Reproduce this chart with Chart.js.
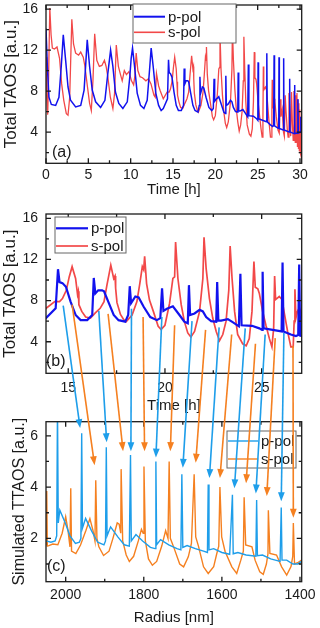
<!DOCTYPE html>
<html>
<head>
<meta charset="utf-8">
<script src="https://cdn.jsdelivr.net/npm/chart.js@4.4.1/dist/chart.umd.min.js"></script>
<style>
  html, body { margin: 0; padding: 0; background: #fff; }
  #wrap { position: relative; width: 320px; height: 628px; overflow: hidden; }
  .pane { position: absolute; left: 0; width: 320px; }
  #overlay { position: absolute; left: 0; top: 0; pointer-events: none; }
</style>
</head>
<body>
<div id="wrap">
  <div class="pane" style="top:0;height:200px"><canvas id="chartA"></canvas></div>
  <div class="pane" style="top:200px;height:215px"><canvas id="chartB"></canvas></div>
  <div class="pane" style="top:415px;height:213px"><canvas id="chartC"></canvas></div>
  <canvas id="overlay" width="320" height="628"></canvas>
</div>
<script>
// measured TAOS, [time h, value]
const pPol = [
  [0,14.1],[0.16,10.4],[0.35,7.4],[0.63,6.7],[1.14,6.6],[1.53,7.4],[1.8,10.4],[2.04,13.5],[2.32,11.0],[2.6,8.4],
  [2.9,7.1],[3.5,6.45],[4.1,6.6],[4.5,8.1],[4.72,11.0],[4.87,13.0],[5.15,10.4],[5.46,8.1],[5.86,6.95],[6.45,6.4],
  [6.96,7.1],[7.3,9.7],[7.63,12.0],[7.9,10.4],[8.2,7.9],[8.6,6.8],[9.08,6.3],[9.6,6.95],[9.9,9.4],[10.06,11.2],
  [10.22,12.2],[10.46,10.4],[10.77,7.8],[11.16,6.6],[11.56,6.3],[11.95,7.1],[12.26,10.4],[12.42,12.2],[12.66,10.4],[12.97,7.8],
  [13.3,6.6],[13.6,6.1],[13.85,6.3],[14.35,7.25],[14.47,11.05],[14.55,9.8],[14.7,9.7],[14.88,9.35],[15.12,7.9],[15.38,6.6],
  [15.64,6.1],[15.98,6.1],[16.24,6.6],[16.32,10.2],[16.4,8.7],[16.55,9.0],[16.75,9.0],[16.85,8.9],[17.1,7.75],[17.35,6.6],
  [17.6,6.1],[17.95,5.95],[18.1,6.6],[18.18,9.4],[18.25,7.75],[18.47,8.4],[18.64,8.3],[18.9,7.4],[19.24,6.4],[19.58,6.1],
  [19.76,6.3],[19.85,9.2],[19.92,7.0],[20.1,7.2],[20.41,7.45],[20.75,6.6],[21.0,5.95],[21.18,5.8],[21.24,9.5],[21.3,6.6],
  [21.53,6.75],[21.79,7.1],[21.96,6.95],[22.13,6.4],[22.39,6.0],[22.65,5.95],[22.7,9.8],[22.76,6.05],[22.9,6.05],[23.25,6.2],
  [23.5,5.9],[23.82,5.5],[23.9,10.6],[23.96,5.6],[24.5,5.55],[24.88,5.3],[25.02,5.15],[25.05,10.8],[25.1,5.3],[25.57,5.15],
  [26.03,5.0],[26.08,11.7],[26.13,5.0],[26.51,4.7],[26.77,4.55],[26.89,4.65],[26.94,11.5],[26.99,4.6],[27.35,4.4],[27.49,4.35],
  [27.52,11.3],[27.56,4.35],[28.02,4.2],[28.07,11.2],[28.11,4.2],[28.72,4.0],[28.78,9.2],[28.82,4.0],[29.3,3.85],[29.35,8.6],
  [29.4,3.85],[29.7,3.9],[29.75,7.2],[29.8,3.9],[30.05,4.0],[30.1,5.5],[30.15,4.1],[30.3,4.3]
];
const sPol = [
  [0,11.3],[0.1,7.5],[0.2,5.7],[0.3,9.0],[0.45,16.1],[0.6,13.5],[0.75,12.2],[1.0,12.1],[1.3,12.3],[1.6,11.2],
  [1.85,8.7],[2.1,7.1],[2.4,5.8],[2.6,5.65],[2.8,7.4],[2.95,12.0],[3.05,15.0],[3.25,12.6],[3.5,11.7],[3.85,11.5],
  [4.1,11.8],[4.4,11.3],[4.6,10.4],[4.9,8.4],[5.15,6.8],[5.35,6.1],[5.55,9.1],[5.75,13.6],[6.0,11.0],[6.3,10.4],
  [6.6,10.5],[6.9,11.0],[7.1,10.4],[7.3,9.4],[7.6,7.4],[7.9,6.3],[8.1,7.8],[8.3,12.5],[8.55,10.4],[8.8,9.6],
  [9.0,9.0],[9.25,10.0],[9.5,9.6],[9.8,9.9],[10.1,9.0],[10.35,8.6],[10.5,9.5],[10.65,11.7],[10.85,10.0],[11.1,9.4],
  [11.4,9.3],[11.8,9.0],[12.1,9.2],[12.4,8.7],[12.75,7.6],[12.9,7.4],[13.05,9.7],[13.3,8.5],[13.5,8.0],[13.85,7.25],
  [14.3,7.9],[14.55,7.9],[14.7,8.2],[14.9,9.0],[15.05,10.3],[15.2,11.3],[15.38,10.15],[15.48,8.6],[15.52,8.9],[15.55,7.6],
  [15.7,6.95],[15.9,6.4],[16.15,6.3],[16.4,6.8],[16.65,7.25],[16.85,7.9],[17.0,9.5],[17.2,11.45],[17.35,10.15],[17.42,10.4],
  [17.45,9.2],[17.52,7.8],[17.7,6.65],[17.87,6.15],[18.0,5.95],[18.3,6.6],[18.55,7.9],[18.7,9.65],[18.83,11.3],[18.9,11.0],
  [18.95,12.3],[19.05,9.65],[19.2,8.05],[19.4,6.95],[19.65,5.5],[19.8,5.2],[20.0,5.6],[20.24,7.75],[20.41,10.15],[20.5,10.3],
  [20.55,13.7],[20.67,10.15],[20.84,7.6],[21.0,6.0],[21.18,4.85],[21.34,4.45],[21.53,5.0],[21.79,6.95],[21.96,10.15],[22.02,14.15],
  [22.13,11.1],[22.3,8.2],[22.47,6.3],[22.65,5.0],[22.82,4.1],[22.99,4.7],[23.16,6.0],[23.3,9.0],[23.37,13.3],[23.47,10.15],
  [23.6,6.95],[23.76,4.7],[24.02,3.8],[24.2,3.6],[24.36,4.3],[24.5,6.95],[24.6,11.8],[24.67,9.3],[24.8,9.15],[24.88,8.7],
  [25.05,6.95],[25.22,5.6],[25.4,4.3],[25.53,3.5],[25.62,5.3],[25.67,10.4],[25.72,8.1],[25.91,8.4],[26.05,8.1],[26.15,7.0],
  [26.34,5.0],[26.51,3.5],[26.63,3.5],[26.68,6.0],[26.72,9.1],[26.77,6.3],[26.85,6.95],[26.94,7.25],[27.03,6.95],[27.2,5.5],
  [27.4,4.2],[27.55,3.9],[27.65,7.2],[27.75,5.5],[27.9,6.2],[28.05,4.0],[28.15,3.6],[28.25,7.6],[28.35,6.0],[28.5,4.2],
  [28.6,3.5],[28.7,7.8],[28.8,5.5],[28.9,3.6],[29.0,7.9],[29.1,4.8],[29.2,3.2],[29.28,8.0],[29.36,4.0],[29.44,3.0],
  [29.5,7.6],[29.58,3.0],[29.64,7.8],[29.7,2.6],[29.76,7.2],[29.82,2.4],[29.87,6.8],[29.92,2.2],[29.97,6.2],[30.02,2.0],
  [30.06,5.5],[30.1,1.8],[30.14,4.8],[30.18,1.5],[30.22,4.0],[30.26,1.4],[30.3,2.5]
];

// simulated TTAOS, [radius nm, value]
const pSim = [
  [2050,1.9],[2038,1.85],[2027,1.9],[2023,2.1],[2021,7.2],[2019,2.6],[2015,3.1],[2001,2.6],[1989,2.1],[1975,1.8],
  [1965,1.85],[1961,2.0],[1959,6.1],[1957,2.4],[1949,2.78],[1934,2.3],[1918,1.85],[1902,1.75],[1898,1.9],[1896,5.55],
  [1894,2.1],[1885,2.45],[1866,2.05],[1850,1.75],[1837,1.7],[1834,5.25],[1832,1.9],[1820,2.15],[1803,1.9],[1783,1.65],
  [1771,1.6],[1769,5.0],[1767,1.75],[1757,1.95],[1736,1.75],[1715,1.6],[1705,1.55],[1702.5,4.5],[1700,1.65],[1689,1.72],
  [1668,1.6],[1647,1.5],[1637,1.45],[1635,4.1],[1633,1.55],[1621,1.6],[1600,1.45],[1580,1.38],[1573,3.7],[1571,1.4],
  [1559,1.45],[1538,1.35],[1513,1.3],[1511,3.5],[1509,1.32],[1496,1.35],[1475,1.2],[1451,1.1],[1448,3.2],[1446,1.15],
  [1434,1.15],[1418,1.0],[1406,1.0],[1396,1.1]
];
const sSim = [
  [2050,1.75],[2048.5,3.85],[2047,1.7],[2043,1.72],[2033,1.78],[2020,1.75],[2009,2.2],[2000,2.84],[1994,2.3],[1989,1.67],
  [1987,3.95],[1985,1.5],[1974,1.41],[1962,1.74],[1948,2.32],[1938,2.77],[1930,2.3],[1925,1.9],[1923,4.27],[1920,2.0],
  [1915,1.67],[1903,1.33],[1889,1.5],[1879,2.0],[1868,2.6],[1863,2.55],[1859,2.2],[1858,4.7],[1854,1.9],[1845,1.35],
  [1837,1.1],[1826,1.3],[1814,1.9],[1806,2.35],[1801.5,2.2],[1799.5,4.8],[1796,1.9],[1788,1.2],[1778,0.95],[1767,1.1],
  [1754,1.7],[1744,2.3],[1738,2.0],[1735,5.0],[1732,2.0],[1722,1.6],[1708,1.0],[1698,0.89],[1686,1.28],[1678,1.8],
  [1671,4.5],[1667,2.06],[1660,1.7],[1647,0.89],[1635,0.63],[1621,0.9],[1613,1.41],[1608,1.7],[1605,4.0],[1600.5,2.06],
  [1592,1.5],[1574.5,0.89],[1562,0.63],[1551.5,1.15],[1545,1.5],[1543,3.6],[1539,1.74],[1523,1.67],[1515,1.15],[1503,0.7],
  [1494,0.6],[1486,1.0],[1482,1.4],[1481,3.1],[1477,1.41],[1460,1.35],[1447,0.89],[1434,0.57],[1423,0.9],[1418.5,1.3],
  [1417,2.6],[1414,1.0],[1406,1.05],[1396,1.15]
];

// arrows: measured peak (time, value in b) -> simulated peak (radius, value in c)
const pArrowTime = [14.74, 16.58, 18.27, 19.84, 21.4, 22.8, 24.15, 25.18, 26.15];
const pArrowFrom = [7.5, 7.0, 7.2, 6.4, 6.0, 5.4, 5.3, 4.7, 4.85];
const pArrowRadius = [1963, 1895, 1833, 1769, 1700, 1632, 1568, 1513, 1448];
const pArrowTo = [6.3, 5.75, 5.4, 5.15, 4.75, 4.35, 3.95, 3.75, 3.45];
const sArrowTime = [15.2, 17.06, 18.87, 20.5, 22.1, 23.45, 24.68, 25.7, 26.62];
const sArrowFrom = [7.6, 6.7, 6.4, 5.6, 5.15, 4.7, 3.8, 4.35, 3.6];
const sArrowRadius = [1926, 1853, 1798, 1732, 1667, 1605, 1538, 1485, 1417];
const sArrowTo = [4.85, 5.4, 5.4, 5.4, 4.95, 4.35, 4.15, 3.65, 2.8];

// tick labels
const timeTicksA = [0, 5, 10, 15, 20, 25, 30];
const timeTicksB = [15, 20, 25];
const taosTicks = [4, 8, 12, 16];
const radiusTicks = [1400, 1600, 1800, 2000];
const simTicks = [2, 4, 6];

const BLUE = "#1212ee";
const RED = "#f24848";
const LBLUE = "#1e9eea";
const ORANGE = "#f58020";
const INK = "#1a1a1a";

Chart.defaults.font.family = "'Liberation Sans', Arial, sans-serif";
Chart.defaults.color = INK;

// box, inward ticks on all sides, legend and panel tag
const framePlugin = {
  id: "frame",
  afterDraw(chart, args, o) {
    const { ctx, chartArea: a } = chart;
    ctx.save();
    ctx.strokeStyle = INK;
    ctx.lineWidth = 1.3;
    const marks = (scale) => {
      const major = scale.ticks.map((t) => t.value);
      const step = major[1] - major[0];
      const minor = [];
      for (let k = 0; k <= major.length; k++) {
        const v = major[0] - step / 2 + k * step;
        if (v > scale.min && v < scale.max) minor.push(v);
      }
      return [major.map((v) => [v, 5]), minor.map((v) => [v, 3])].flat();
    };
    ctx.beginPath();
    marks(chart.scales.x).forEach(([v, len]) => {
      const px = chart.scales.x.getPixelForValue(v);
      ctx.moveTo(px, a.bottom); ctx.lineTo(px, a.bottom - len);
      ctx.moveTo(px, a.top); ctx.lineTo(px, a.top + len);
    });
    marks(chart.scales.y).forEach(([v, len]) => {
      const py = chart.scales.y.getPixelForValue(v);
      ctx.moveTo(a.left, py); ctx.lineTo(a.left + len, py);
      ctx.moveTo(a.right, py); ctx.lineTo(a.right - len, py);
    });
    ctx.stroke();
    ctx.strokeRect(a.left, a.top, a.right - a.left, a.bottom - a.top);

    const lg = o.legend;
    ctx.fillStyle = "#fff";
    ctx.fillRect(lg.x, lg.y, lg.w, lg.h);
    ctx.strokeStyle = "#666";
    ctx.lineWidth = 1;
    ctx.strokeRect(lg.x, lg.y, lg.w, lg.h);
    ctx.font = "15px 'Liberation Sans', Arial, sans-serif";
    ctx.textBaseline = "middle";
    lg.items.forEach((it, i) => {
      const cy = lg.y + lg.first + i * lg.gap;
      ctx.strokeStyle = it.color;
      ctx.lineWidth = it.width;
      ctx.beginPath();
      ctx.moveTo(lg.x + 1, cy); ctx.lineTo(lg.x + 1 + lg.line, cy);
      ctx.stroke();
      ctx.fillStyle = INK;
      ctx.fillText(it.label, lg.x + lg.line + 4, cy + 1);
    });

    ctx.font = "16px 'Liberation Sans', Arial, sans-serif";
    ctx.fillStyle = INK;
    ctx.fillText(o.tag.text, o.tag.x, o.tag.y);
    ctx.restore();
  },
};

function fixedAxis(size, isX) {
  return (s) => {
    if (isX) s.height = size; else s.width = size;
    s.paddingLeft = 0; s.paddingRight = 0; s.paddingTop = 0; s.paddingBottom = 0;
  };
}

function makeChart(id, c) {
  return new Chart(document.getElementById(id), {
    type: "line",
    data: {
      datasets: c.series.map((s) => ({
        data: s.points.map((p) => ({ x: p[0], y: p[1] })),
        borderColor: s.color,
        borderWidth: s.width,
        pointRadius: 0,
        tension: 0,
        fill: false,
      })),
    },
    options: {
      animation: false,
      responsive: true,
      maintainAspectRatio: false,
      events: [],
      layout: { padding: { left: 0, right: 18.3, top: c.top, bottom: 0 } },
      plugins: { legend: { display: false }, tooltip: { enabled: false }, frame: c.frame },
      scales: {
        x: {
          type: "linear",
          min: c.xMin, max: c.xMax, reverse: !!c.xReverse,
          afterBuildTicks: (s) => { s.ticks = c.xTicks.map((v) => ({ value: v })); },
          afterFit: fixedAxis(c.xHeight, true),
          grid: { display: false, drawTicks: false },
          border: { display: false },
          ticks: { autoSkip: false, maxRotation: 0, padding: c.xPad, font: { size: 14 }, callback: (v) => String(v) },
          title: { display: true, text: c.xTitle, font: { size: c.xTitleSize }, padding: { top: 0, bottom: c.xTitlePad } },
        },
        y: {
          type: "linear",
          min: c.yMin, max: c.yMax,
          afterBuildTicks: (s) => { s.ticks = c.yTicks.map((v) => ({ value: v })); },
          afterFit: fixedAxis(46, false),
          grid: { display: false, drawTicks: false },
          border: { display: false },
          ticks: { autoSkip: false, padding: 8, font: { size: 14 }, callback: (v) => String(v) },
          title: { display: true, text: c.yTitle, font: { size: c.yTitleSize }, padding: { top: c.yTitlePad, bottom: 0 } },
        },
      },
    },
    plugins: [framePlugin],
  });
}

const chartA = makeChart("chartA", {
  series: [
    { points: pPol, color: BLUE, width: 1.5 },
    { points: sPol, color: RED, width: 1.3 },
  ],
  top: 5, xHeight: 36.7, xPad: 3.6,
  xMin: 0, xMax: 30.2, xTicks: timeTicksA, xTitle: "Time [h]", xTitleSize: 15, xTitlePad: 1,
  yMin: 0.95, yMax: 16.4, yTicks: taosTicks, yTitle: "Total TAOS [a.u.]", yTitleSize: 17, yTitlePad: 0.8,
  frame: {
    legend: { x: 133, y: 4, w: 103, h: 39, first: 12.7, gap: 15.6, line: 31,
      items: [{ label: "p-pol", color: BLUE, width: 2 }, { label: "s-pol", color: RED, width: 1.6 }] },
    tag: { text: "(a)", x: 52, y: 153 },
  },
});

const chartB = makeChart("chartB", {
  series: [
    { points: pPol, color: BLUE, width: 2.2 },
    { points: sPol, color: RED, width: 1.7 },
  ],
  top: 14, xHeight: 41.7, xPad: 6.6,
  xMin: 13.85, xMax: 27.07, xTicks: timeTicksB, xTitle: "Time [h]", xTitleSize: 15, xTitlePad: 0,
  yMin: 0.93, yMax: 16.42, yTicks: taosTicks, yTitle: "Total TAOS [a.u.]", yTitleSize: 17, yTitlePad: 0,
  frame: {
    legend: { x: 55, y: 17, w: 71, h: 36, first: 11.3, gap: 17.7, line: 32,
      items: [{ label: "p-pol", color: BLUE, width: 2.2 }, { label: "s-pol", color: RED, width: 1.7 }] },
    tag: { text: "(b)", x: 46, y: 162 },
  },
});

const chartC = makeChart("chartC", {
  series: [
    { points: pSim, color: LBLUE, width: 1.4 },
    { points: sSim, color: ORANGE, width: 1.4 },
  ],
  top: 6.7, xHeight: 46.3, xPad: 4.9,
  xMin: 1395.6, xMax: 2050.4, xReverse: true, xTicks: radiusTicks, xTitle: "Radius [nm]", xTitleSize: 15, xTitlePad: 1,
  yMin: 0.31, yMax: 6.55, yTicks: simTicks, yTitle: "Simulated TTAOS [a.u.]", yTitleSize: 16, yTitlePad: 10,
  frame: {
    legend: { x: 227, y: 16, w: 69, h: 37, first: 10, gap: 18, line: 30,
      items: [{ label: "p-pol", color: LBLUE, width: 1.4 }, { label: "s-pol", color: ORANGE, width: 1.4 }] },
    tag: { text: "(c)", x: 47, y: 152 },
  },
});

// arrows linking measured peaks (b) to simulated peaks (c)
const ov = document.getElementById("overlay").getContext("2d");
const offB = document.getElementById("chartB").parentNode.offsetTop;
const offC = document.getElementById("chartC").parentNode.offsetTop;

function arrow(x1, y1, x2, y2, color) {
  const ang = Math.atan2(y2 - y1, x2 - x1);
  const len = 9, half = 3.4;
  ov.strokeStyle = color;
  ov.fillStyle = color;
  ov.lineWidth = 1.6;
  ov.beginPath();
  ov.moveTo(x1, y1);
  ov.lineTo(x2 - Math.cos(ang) * len * 0.8, y2 - Math.sin(ang) * len * 0.8);
  ov.stroke();
  ov.beginPath();
  ov.moveTo(x2, y2);
  ov.lineTo(x2 - len * Math.cos(ang) + half * Math.sin(ang), y2 - len * Math.sin(ang) - half * Math.cos(ang));
  ov.lineTo(x2 - len * Math.cos(ang) - half * Math.sin(ang), y2 - len * Math.sin(ang) + half * Math.cos(ang));
  ov.closePath();
  ov.fill();
}

function drawArrows(times, from, radii, to, color) {
  times.forEach((t, i) => {
    const x1 = chartB.scales.x.getPixelForValue(t);
    const y1 = offB + chartB.scales.y.getPixelForValue(from[i]);
    const x2 = chartC.scales.x.getPixelForValue(radii[i]);
    const y2 = offC + chartC.scales.y.getPixelForValue(to[i]);
    arrow(x1, y1, x2, y2, color);
  });
}

drawArrows(pArrowTime, pArrowFrom, pArrowRadius, pArrowTo, LBLUE);
drawArrows(sArrowTime, sArrowFrom, sArrowRadius, sArrowTo, ORANGE);
</script>
</body>
</html>
